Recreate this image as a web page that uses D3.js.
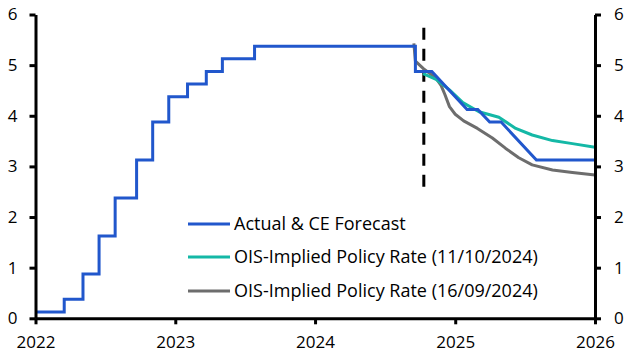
<!DOCTYPE html>
<html>
<head>
<meta charset="utf-8">
<script src="https://cdn.jsdelivr.net/npm/d3@7"></script>
<style>
  html, body { margin: 0; padding: 0; background: #fff; }
  svg { display: block; }
  text { font-family: "Open Sans", "Noto Sans", sans-serif; fill: #000; }
</style>
</head>
<body>
<script>
// ---- Data ----
const actualDates = ["2022-01-01","2022-03-17","2022-05-05","2022-06-16","2022-07-28","2022-09-22","2022-11-03","2022-12-15","2023-02-02","2023-03-23","2023-05-04","2023-07-27","2024-09-19"];
const actualValues = [0.125,0.375,0.875,1.625,2.375,3.125,3.875,4.375,4.625,4.875,5.125,5.375,4.875];

const forecastDates = ["2024-11-01","2025-02-01","2025-03-01","2025-04-01","2025-05-01","2025-08-01","2026-01-01"];
const forecastValues = [4.875,4.125,4.125,3.875,3.875,3.125,3.125];

const oisOctDates = ["2024-10-09","2024-11-12","2024-12-17","2025-01-21","2025-03-04","2025-04-25","2025-06-08","2025-07-21","2025-09-12","2025-11-03","2026-01-01"];
const oisOctValues = [4.83,4.72,4.51,4.26,4.08,3.97,3.75,3.62,3.51,3.45,3.38];

const oisSepDates = ["2024-09-15","2024-09-19","2024-10-10","2024-11-12","2024-11-25","2024-12-05","2024-12-17","2025-01-01","2025-01-23","2025-02-28","2025-04-08","2025-05-12","2025-06-16","2025-07-21","2025-09-12","2025-11-03","2026-01-01"];
const oisSepValues = [5.43,5.08,4.93,4.74,4.6,4.42,4.18,4.03,3.9,3.75,3.56,3.36,3.17,3.03,2.93,2.88,2.83];

const forecastStartDate = "2024-10-11";
const markerRange = [5.74, 2.6];

const yTicks = [0,1,2,3,4,5,6];
const xTickLabels = ["2022","2023","2024","2025","2026"];

const legendLabels = ["Actual & CE Forecast","OIS-Implied Policy Rate (11/10/2024)","OIS-Implied Policy Rate (16/09/2024)"];
const colors = ["#2157cc","#14b8a6","#6d6d6d"];

// ---- Setup ----
const W = 630, H = 357;
const parse = d3.timeParse("%Y-%m-%d");
const svg = d3.select("body").append("svg").attr("width", W).attr("height", H);

const x = d3.scaleTime().domain([parse("2022-01-01"), parse("2026-01-01")]).range([35.5, 595]);
const y = d3.scaleLinear().domain([0, 6]).range([318.3, 14.5]);

// Blue series: step actual + linear forecast
const bluePts = [];
actualDates.forEach((d, i) => {
  const dt = parse(d);
  if (i > 0) bluePts.push([dt, actualValues[i-1]]);
  bluePts.push([dt, actualValues[i]]);
});
forecastDates.forEach((d, i) => bluePts.push([parse(d), forecastValues[i]]));

const line = d3.line().x(d => x(d[0])).y(d => y(d[1]));

const octPts = oisOctDates.map((d, i) => [parse(d), oisOctValues[i]]);
const sepPts = oisSepDates.map((d, i) => [parse(d), oisSepValues[i]]);

// Dashed vertical marker
svg.append("line")
  .attr("x1", x(parse(forecastStartDate))).attr("x2", x(parse(forecastStartDate)))
  .attr("y1", y(markerRange[0])).attr("y2", y(markerRange[1]))
  .attr("stroke", "#000").attr("stroke-width", 3).attr("stroke-dasharray", "12,9");

// Lines
svg.append("path").attr("d", line(sepPts)).attr("fill", "none")
  .attr("stroke", colors[2]).attr("stroke-width", 3).attr("stroke-linejoin", "round");
svg.append("path").attr("d", line(octPts)).attr("fill", "none")
  .attr("stroke", colors[1]).attr("stroke-width", 3).attr("stroke-linejoin", "round");
svg.append("path").attr("d", line(bluePts)).attr("fill", "none")
  .attr("stroke", colors[0]).attr("stroke-width", 3);

// Axes
const tickFont = 17;
const legendFont = 18;
const leftAxis = d3.axisLeft(y).tickValues(yTicks).tickSize(6).tickPadding(12).tickFormat(d3.format("d"));
const rightAxis = d3.axisRight(y).tickValues(yTicks).tickSize(6).tickPadding(13).tickFormat(d3.format("d"));
const bottomAxis = d3.axisBottom(x)
  .tickValues(xTickLabels.map(s => parse(s + "-01-01")))
  .tickSize(6).tickPadding(12).tickFormat((d, i) => xTickLabels[i]);

function styleAxis(g) {
  g.select(".domain").attr("stroke", "#000").attr("stroke-width", 3);
  g.selectAll(".tick line").attr("stroke", "#000").attr("stroke-width", 3);
  g.selectAll(".tick text").attr("font-size", tickFont).attr("font-family", "'Open Sans', sans-serif").attr("fill", "#000");
}

const gl = svg.append("g").attr("transform", "translate(35.5,0)").call(leftAxis.tickSizeOuter(0));
styleAxis(gl);
const gr = svg.append("g").attr("transform", "translate(595,0)").call(rightAxis.tickSizeOuter(0));
styleAxis(gr);
const gb = svg.append("g").attr("transform", "translate(0,318.3)").call(bottomAxis.tickSizeOuter(0));
styleAxis(gb);

// Legend
const legendY = [224, 257, 291];
legendLabels.forEach((lab, i) => {
  svg.append("line").attr("x1", 188).attr("x2", 230).attr("y1", legendY[i]).attr("y2", legendY[i])
    .attr("stroke", colors[i]).attr("stroke-width", 3);
  svg.append("text").attr("x", 234).attr("y", legendY[i]).attr("dy", "0.35em")
    .attr("font-size", legendFont).text(lab);
});
</script>
</body>
</html>
